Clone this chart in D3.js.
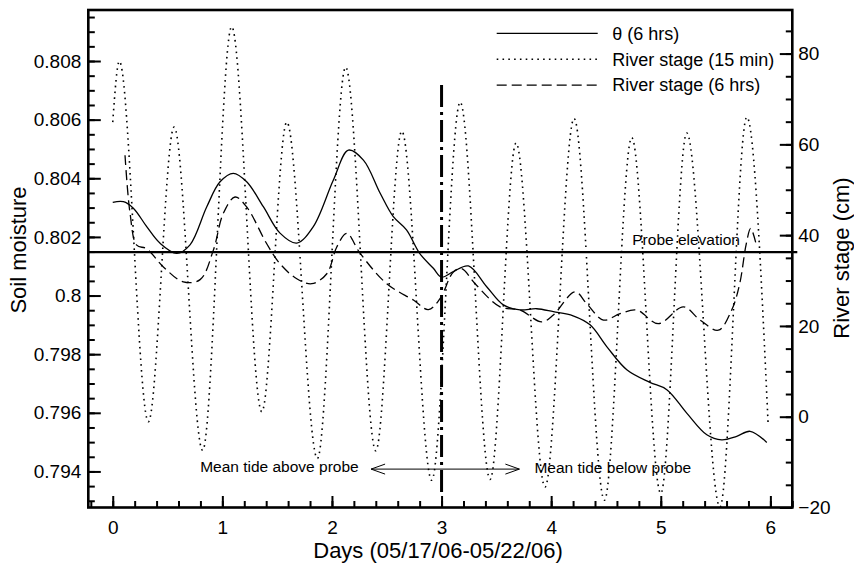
<!DOCTYPE html>
<meta charset="utf-8">
<script src="https://d3js.org/d3.v7.min.js"></script>
<style>
    body { margin: 0; background: #fff; }
    svg text { font-family: 'Liberation Sans', Arial, Helvetica, sans-serif; fill: #000; }
    .tick line { stroke: #000; stroke-width: 2px; }
    .tick text { font-size: 19px; }
    .title { font-size: 22px; text-anchor: middle; }
    .legend { font-size: 18px; }
    .note { font-size: 15.5px; }
</style>
<div id="chart"></div>
<script>
    // soil moisture, theta (6 hrs) - left axis
    let thetaDays = [0, 0.097, 0.188, 0.31, 0.43, 0.584, 0.705, 0.858, 0.979, 1.10, 1.222, 1.374, 1.526, 1.679, 1.83, 2.013, 2.15, 2.287, 2.44, 2.56, 2.68, 2.80, 2.925, 3.0, 3.108, 3.245, 3.41, 3.564, 3.716, 3.868, 4.02, 4.2, 4.355, 4.507, 4.69, 4.9, 5.055, 5.237, 5.42, 5.556, 5.693, 5.815, 5.967];
    let thetaVals = [0.80318, 0.8032, 0.80298, 0.80235, 0.80179, 0.80144, 0.80173, 0.80303, 0.80388, 0.80417, 0.80388, 0.80303, 0.80213, 0.80179, 0.80235, 0.80394, 0.80496, 0.80462, 0.80349, 0.80269, 0.80224, 0.80144, 0.80093, 0.80063, 0.80082, 0.80101, 0.80031, 0.79968, 0.79951, 0.79955, 0.79945, 0.79931, 0.799, 0.79826, 0.79747, 0.79704, 0.79679, 0.79599, 0.79525, 0.79508, 0.7952, 0.79537, 0.79499];

    // river stage, 15 min (cm) - right axis, read at turning points
    let stage15Days = [0, 0.06, 0.325, 0.56, 0.82, 1.085, 1.36, 1.588, 1.867, 2.125, 2.40, 2.637, 2.91, 3.17, 3.443, 3.68, 3.944, 4.209, 4.486, 4.735, 5.0, 5.237, 5.54, 5.785, 5.98];
    let stage15Vals = [64.9, 78.3, -1.1, 63.8, -7.4, 85.9, 1.1, 64.9, -9.2, 77.0, -7.5, 62.9, -14.0, 69.3, -13.8, 60.3, -15.5, 65.7, -18.4, 61.5, -16.9, 62.5, -19.9, 66.0, -1.9];

    // river stage, 6 hrs (cm) - right axis
    let stage6Days = [0.112, 0.158, 0.219, 0.31, 0.462, 0.644, 0.797, 0.918, 1.009, 1.116, 1.222, 1.405, 1.526, 1.679, 1.816, 1.953, 2.044, 2.135, 2.257, 2.5, 2.743, 2.88, 2.986, 3.108, 3.184, 3.306, 3.534, 3.716, 3.914, 4.02, 4.218, 4.325, 4.477, 4.629, 4.78, 4.978, 5.206, 5.358, 5.525, 5.647, 5.72, 5.78, 5.82, 5.87];
    let stage6Vals = [57.6, 44.8, 37.8, 37.0, 33.0, 29.7, 30.2, 36.7, 44.8, 48.4, 46.2, 38.1, 33.7, 30.4, 29.3, 31.5, 37.4, 40.4, 36.0, 29.3, 25.7, 23.6, 26.0, 31.9, 32.6, 29.3, 24.2, 23.5, 20.9, 22.4, 27.5, 24.9, 21.3, 22.7, 23.5, 20.5, 24.2, 21.3, 19.05, 23.5, 29.3, 38.1, 41.5, 38.0];

    let xTicks = [0, 1, 2, 3, 4, 5, 6];
    let leftTicks = [0.794, 0.796, 0.798, 0.8, 0.802, 0.804, 0.806, 0.808];
    let leftLabels = ["0.794", "0.796", "0.798", "0.8", "0.802", "0.804", "0.806", "0.808"];
    let rightTicks = [-20, 0, 20, 40, 60, 80];

    let legendNames = ["\u03b8 (6 hrs)", "River stage (15 min)", "River stage (6 hrs)"];
    let legendDash = ["none", "1.6,4.2", "10,5"];

    let probeLevel = 0.80148;       // probe elevation, left-axis units
    let splitDay = 3;               // dash-dot divider
    let splitRange = [0.79327, 0.80718];
    let arrowRange = [2.357, 3.71];
    let arrowLevel = 0.79408;

    let margin = {top: 10, right: 61.7, bottom: 59.5, left: 88.3},
        width = 854 - margin.left - margin.right,
        height = 567 - margin.top - margin.bottom;

    let svg = d3.select("#chart").append("svg")
        .attr("width", 854).attr("height", 567)
        .append("g")
        .attr("transform", "translate(" + margin.left + "," + margin.top + ")");

    let x = d3.scaleLinear().domain([-0.223, 6.2]).range([0, width]);
    let yL = d3.scaleLinear().domain([0.79277, 0.80974]).range([height, 0]);
    let yR = d3.scaleLinear().domain([-20, 89.6]).range([height, 0]);

    // minor ticks
    svg.append("g").attr("transform", "translate(0," + height + ")")
        .call(d3.axisBottom(x).tickValues(d3.range(-0.2, 6.21, 0.2)).tickSize(-6.5).tickFormat(""))
        .call(g => g.select(".domain").remove());
    svg.append("g")
        .call(d3.axisLeft(yL).tickValues(d3.range(0.793, 0.8096, 0.0005)).tickSize(-6.5).tickFormat(""))
        .call(g => g.select(".domain").remove());
    svg.append("g").attr("transform", "translate(" + width + ",0)")
        .call(d3.axisRight(yR).tickValues(d3.range(-15, 89, 5)).tickSize(-6.5).tickFormat(""))
        .call(g => g.select(".domain").remove());

    // major ticks
    svg.append("g").attr("transform", "translate(0," + height + ")")
        .call(d3.axisBottom(x).tickValues(xTicks).tickSize(-11.5).tickPadding(13).tickFormat(d3.format("d")))
        .call(g => g.select(".domain").remove());
    svg.append("g")
        .call(d3.axisLeft(yL).tickValues(leftTicks).tickSize(-12.5).tickPadding(7)
            .tickFormat((d, i) => leftLabels[i]))
        .call(g => g.select(".domain").remove());
    svg.append("g").attr("transform", "translate(" + width + ",0)")
        .call(d3.axisRight(yR).tickValues(rightTicks).tickSize(-12.5).tickPadding(6))
        .call(g => g.select(".domain").remove());
    svg.selectAll(".tick text").attr("font-family", null).attr("font-size", null);

    // frame
    svg.append("rect")
        .attr("width", width).attr("height", height)
        .style("fill", "none").style("stroke", "#000").style("stroke-width", 2.6);

    // probe elevation line
    svg.append("line")
        .attr("x1", 0).attr("x2", width + 5)
        .attr("y1", yL(probeLevel)).attr("y2", yL(probeLevel))
        .style("stroke", "#000").style("stroke-width", 2.2);
    svg.append("text").attr("class", "note")
        .attr("x", x(4.74)).attr("y", yL(probeLevel) - 7)
        .text("Probe elevation");

    let curve = d3.curveMonotoneX;

    // river stage 15 min, dotted
    svg.append("path")
        .datum(stage15Days.map((d, i) => [d, stage15Vals[i]]))
        .style("fill", "none").style("stroke", "#000")
        .style("stroke-width", 1.6).style("stroke-dasharray", legendDash[1])
        .attr("d", d3.line().x(d => x(d[0])).y(d => yR(d[1])).curve(curve));

    // river stage 6 hrs, dashed
    svg.append("path")
        .datum(stage6Days.map((d, i) => [d, stage6Vals[i]]))
        .style("fill", "none").style("stroke", "#000")
        .style("stroke-width", 1.3).style("stroke-dasharray", legendDash[2])
        .attr("d", d3.line().x(d => x(d[0])).y(d => yR(d[1])).curve(d3.curveCatmullRom));

    // theta, solid
    svg.append("path")
        .datum(thetaDays.map((d, i) => [d, thetaVals[i]]))
        .style("fill", "none").style("stroke", "#000").style("stroke-width", 1.3)
        .attr("d", d3.line().x(d => x(d[0])).y(d => yL(d[1])).curve(d3.curveCatmullRom));

    // dash-dot divider at day 3
    svg.append("line")
        .attr("x1", x(splitDay)).attr("x2", x(splitDay))
        .attr("y1", yL(splitRange[1])).attr("y2", yL(splitRange[0]))
        .style("stroke", "#000").style("stroke-width", 3)
        .style("stroke-dasharray", "22,5,3,5");

    // double arrow and notes
    let ay = yL(arrowLevel), ax0 = x(arrowRange[0]), ax1 = x(arrowRange[1]);
    svg.append("line").attr("x1", ax0).attr("x2", ax1).attr("y1", ay).attr("y2", ay)
        .style("stroke", "#000").style("stroke-width", 1);
    svg.append("path")
        .attr("d", "M" + (ax0 + 14) + "," + (ay - 5) + "L" + ax0 + "," + ay + "L" + (ax0 + 14) + "," + (ay + 5)
            + "M" + (ax1 - 14) + "," + (ay - 5) + "L" + ax1 + "," + ay + "L" + (ax1 - 14) + "," + (ay + 5))
        .style("fill", "none").style("stroke", "#000").style("stroke-width", 1);
    svg.append("text").attr("class", "note")
        .attr("x", x(2.244)).attr("y", ay + 3)
        .style("text-anchor", "end")
        .text("Mean tide above probe");
    svg.append("text").attr("class", "note")
        .attr("x", x(3.847)).attr("y", ay + 4)
        .text("Mean tide below probe");

    // legend
    let legend = svg.selectAll(".leg")
        .data(legendNames)
        .enter().append("g")
        .attr("transform", (d, i) => "translate(" + (496.7 - margin.left) + "," + (33.3 - margin.top + i * 25.9) + ")");
    legend.append("line")
        .attr("x1", 0).attr("x2", 101)
        .style("stroke", "#000").style("stroke-width", (d, i) => i == 1 ? 1.6 : 1.2)
        .style("stroke-dasharray", (d, i) => legendDash[i]);
    legend.append("text").attr("class", "legend")
        .attr("x", 115.6).attr("dy", "0.35em")
        .text(d => d);

    // axis titles
    svg.append("text").attr("class", "title")
        .attr("transform", "rotate(-90)")
        .attr("x", -(250 - margin.top)).attr("y", 18.3 - margin.left)
        .attr("dy", "0.35em")
        .text("Soil moisture");
    svg.append("text").attr("class", "title")
        .attr("transform", "rotate(-90)")
        .attr("x", -(258 - margin.top)).attr("y", 841.5 - margin.left)
        .attr("dy", "0.35em")
        .text("River stage (cm)");
    svg.append("text").attr("class", "title")
        .attr("x", 438 - margin.left).attr("y", 558 - margin.top)
        .text("Days (05/17/06-05/22/06)");
</script>
